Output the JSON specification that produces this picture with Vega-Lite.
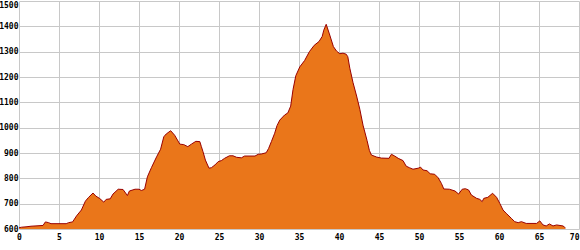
{
  "$schema": "https://vega.github.io/schema/vega-lite/v6.json",
  "width": 560,
  "height": 228,
  "autosize": {"type": "none"},
  "padding": {"left": 19, "top": 1, "right": 1, "bottom": 21},
  "background": "white",
  "config": {"view": {"stroke": null}},
  "data": {"values": [
    {"km":0,"ele":605},{"km":0.3,"ele":607},{"km":1,"ele":609},{"km":1.5,"ele":611},{"km":2,"ele":612},{"km":2.5,"ele":613},{"km":3,"ele":614},{"km":3.3,"ele":628},{"km":3.7,"ele":625},{"km":4,"ele":621},{"km":5,"ele":621},{"km":5.9,"ele":621},{"km":6.2,"ele":625},{"km":6.7,"ele":628},{"km":7.2,"ele":652},{"km":7.8,"ele":675},{"km":8.3,"ele":710},{"km":8.7,"ele":725},{"km":9.25,"ele":742},{"km":9.6,"ele":730},{"km":10.1,"ele":720},{"km":10.6,"ele":706},{"km":10.9,"ele":717},{"km":11.4,"ele":719},{"km":11.75,"ele":738},{"km":12.4,"ele":757},{"km":13,"ele":756},{"km":13.55,"ele":732},{"km":13.8,"ele":750},{"km":14.5,"ele":757},{"km":15,"ele":757},{"km":15.3,"ele":752},{"km":15.7,"ele":757},{"km":16.05,"ele":806},{"km":16.55,"ele":842},{"km":17.2,"ele":885},{"km":17.7,"ele":915},{"km":18.1,"ele":964},{"km":18.4,"ele":975},{"km":18.96,"ele":988},{"km":19.46,"ele":970},{"km":20.1,"ele":935},{"km":20.6,"ele":933},{"km":21.1,"ele":925},{"km":21.55,"ele":935},{"km":22.1,"ele":946},{"km":22.6,"ele":945},{"km":22.8,"ele":925},{"km":23,"ele":905},{"km":23.3,"ele":872},{"km":23.75,"ele":840},{"km":24.05,"ele":842},{"km":24.5,"ele":853},{"km":24.9,"ele":866},{"km":25.3,"ele":870},{"km":25.7,"ele":879},{"km":26.3,"ele":889},{"km":26.75,"ele":889},{"km":27.2,"ele":883},{"km":27.8,"ele":881},{"km":28.2,"ele":888},{"km":29.5,"ele":888},{"km":29.9,"ele":895},{"km":30.3,"ele":896},{"km":30.9,"ele":901},{"km":31.2,"ele":918},{"km":31.55,"ele":945},{"km":31.96,"ele":978},{"km":32.25,"ele":1008},{"km":32.6,"ele":1030},{"km":33.2,"ele":1050},{"km":33.6,"ele":1058},{"km":33.96,"ele":1085},{"km":34.25,"ele":1150},{"km":34.6,"ele":1205},{"km":35.1,"ele":1240},{"km":35.7,"ele":1265},{"km":36.3,"ele":1300},{"km":36.9,"ele":1325},{"km":37.5,"ele":1340},{"km":37.9,"ele":1360},{"km":38.1,"ele":1385},{"km":38.4,"ele":1408},{"km":38.8,"ele":1370},{"km":39.3,"ele":1320},{"km":39.7,"ele":1302},{"km":40.1,"ele":1292},{"km":40.5,"ele":1294},{"km":40.9,"ele":1290},{"km":41.1,"ele":1280},{"km":41.35,"ele":1235},{"km":41.75,"ele":1178},{"km":42.2,"ele":1125},{"km":42.6,"ele":1073},{"km":43,"ele":1010},{"km":43.5,"ele":950},{"km":43.8,"ele":910},{"km":44.05,"ele":892},{"km":44.7,"ele":884},{"km":45.3,"ele":880},{"km":46.25,"ele":879},{"km":46.55,"ele":895},{"km":46.96,"ele":888},{"km":47.4,"ele":879},{"km":48,"ele":870},{"km":48.4,"ele":848},{"km":48.8,"ele":842},{"km":49.25,"ele":836},{"km":49.9,"ele":840},{"km":50.2,"ele":844},{"km":50.5,"ele":833},{"km":51,"ele":830},{"km":51.4,"ele":818},{"km":51.96,"ele":816},{"km":52.4,"ele":802},{"km":52.8,"ele":780},{"km":53.1,"ele":758},{"km":53.8,"ele":757},{"km":54.5,"ele":750},{"km":54.95,"ele":738},{"km":55.4,"ele":757},{"km":55.8,"ele":759},{"km":56.2,"ele":754},{"km":56.55,"ele":734},{"km":57.2,"ele":721},{"km":57.6,"ele":717},{"km":57.9,"ele":708},{"km":58.1,"ele":721},{"km":58.6,"ele":725},{"km":59.2,"ele":741},{"km":59.7,"ele":725},{"km":60.1,"ele":701},{"km":60.5,"ele":675},{"km":60.9,"ele":662},{"km":61.55,"ele":642},{"km":61.96,"ele":629},{"km":62.4,"ele":625},{"km":62.8,"ele":629},{"km":63.4,"ele":622},{"km":64.7,"ele":622},{"km":65.1,"ele":632},{"km":65.5,"ele":616},{"km":65.9,"ele":612},{"km":66.3,"ele":620},{"km":66.75,"ele":612},{"km":67.2,"ele":616},{"km":68,"ele":612},{"km":68.2,"ele":607},{"km":68.3,"ele":605}
  ]},
  "mark": {"type": "area", "color": "#EA761A", "opacity": 1, "fillOpacity": 1, "clip": true, "line": {"color": "#990000", "strokeWidth": 1}},
  "encoding": {
    "x": {"field": "km", "type": "quantitative",
      "scale": {"domain": [0, 70], "nice": false, "zero": false},
      "axis": {"title": null, "format": "d", "values": [0,5,10,15,20,25,30,35,40,45,50,55,60,65,70], "grid": true, "gridColor": "#c8c8c8", "gridWidth": 1, "domain": false, "ticks": false, "labelPadding": 4, "labelFont": "DejaVu Sans Mono", "labelFontSize": 8, "labelFontWeight": "bold", "labelColor": "#000000", "labelFlush": false, "labelOverlap": false,
        "labelAlign": {"condition": {"test": "datum.value == 70", "value": "right"}, "value": "center"}}},
    "y": {"field": "ele", "type": "quantitative",
      "scale": {"domain": [600, 1500], "nice": false, "zero": false},
      "axis": {"title": null, "format": "d", "values": [600,700,800,900,1000,1100,1200,1300,1400,1500], "grid": true, "gridColor": "#c8c8c8", "gridWidth": 1, "domain": false, "ticks": false, "labelPadding": 1, "labelFont": "DejaVu Sans Mono", "labelFontSize": 8, "labelFontWeight": "bold", "labelColor": "#000000", "labelFlush": false, "labelOverlap": false,
        "labelBaseline": {"condition": {"test": "datum.value == 1500", "value": "top"}, "value": "middle"}}}
  }
}
